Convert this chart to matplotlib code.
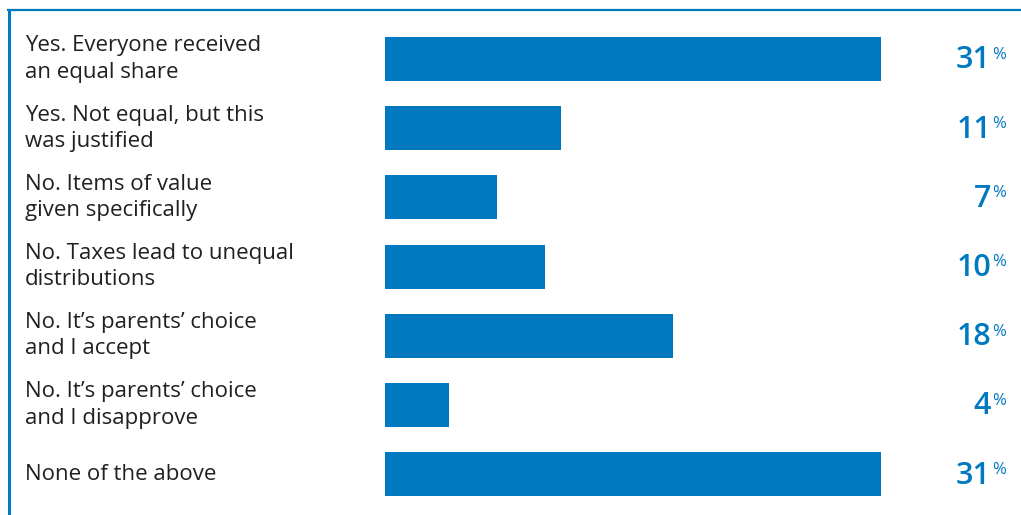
import matplotlib.pyplot as plt
from matplotlib.lines import Line2D

labels = [
    "Yes. Everyone received\nan equal share",
    "Yes. Not equal, but this\nwas justified",
    "No. Items of value\ngiven specifically",
    "No. Taxes lead to unequal\ndistributions",
    "No. It\u2019s parents\u2019 choice\nand I accept",
    "No. It\u2019s parents\u2019 choice\nand I disapprove",
    "None of the above",
]
values = [31, 11, 7, 10, 18, 4, 31]

blue = "#0079c1"
dark = "#231f20"

W, H = 1021, 515
fig = plt.figure(figsize=(W / 100, H / 100), dpi=100)
ax = fig.add_axes([0, 0, 1, 1])
ax.axis("off")

# pixel layout: bars start at x=385, 16 px per percent, rows 69 px apart
px_per = 16.0
x0 = 385
row = 69.2
top = 59
ax.set_xlim(-x0 / px_per, (W - x0) / px_per)
ax.set_ylim((H - top) / row, -top / row)

ys = list(range(len(values)))
ax.barh(ys, values, height=44 / row, color=blue)

for y, lab, v in zip(ys, labels, values):
    ax.text((25 - x0) / px_per, y, lab, ha="left", va="center",
            fontsize=16, color=dark, family="Open Sans", weight="medium",
            linespacing=1.32)
    ax.text((991 - x0) / px_per, y + 0.02, str(v), ha="right", va="center",
            fontsize=22, color=blue, family="Open Sans", weight="semibold")
    ax.text((992 - x0) / px_per, y - 0.06, "%", ha="left", va="center",
            fontsize=12, color=blue, family="Open Sans")

# frame lines top and left
fig.add_artist(Line2D([8 / W, 1], [1 - 10 / H, 1 - 10 / H], color=blue, lw=1.6))
fig.add_artist(Line2D([8.5 / W, 8.5 / W], [0, 1 - 10 / H], color=blue, lw=2.2))

fig.savefig("out.png", dpi=100)
